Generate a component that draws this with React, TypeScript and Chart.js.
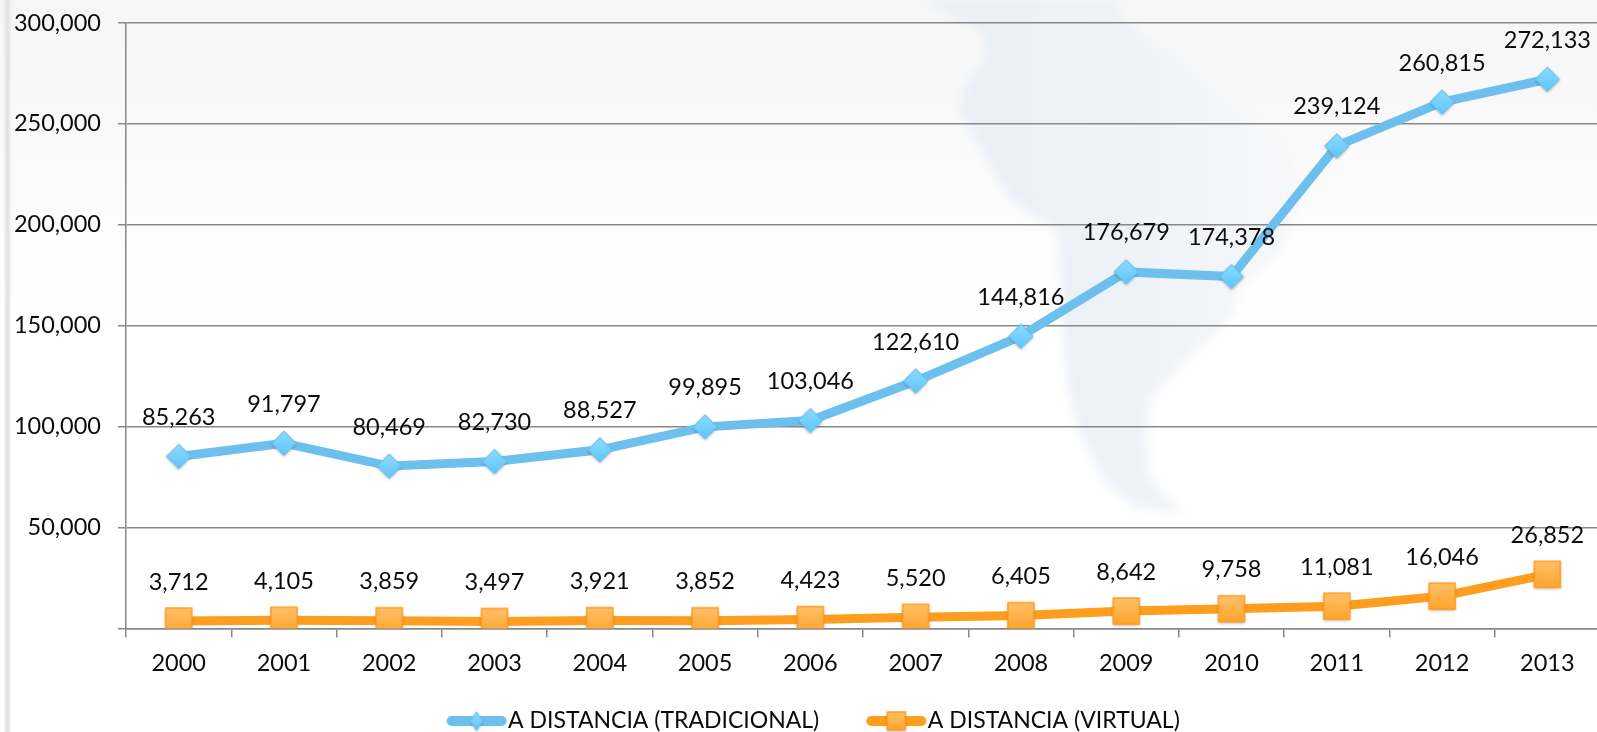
import React, { useEffect, useRef } from "react";
import { Chart, registerables } from "chart.js";

Chart.register(...registerables);

const years = ["2000","2001","2002","2003","2004","2005","2006","2007","2008","2009","2010","2011","2012","2013"];
const tradicional = [85263,91797,80469,82730,88527,99895,103046,122610,144816,176679,174378,239124,260815,272133];
const virtual = [3712,4105,3859,3497,3921,3852,4423,5520,6405,8642,9758,11081,16046,26852];
const seriesNames = ["A DISTANCIA (TRADICIONAL)", "A DISTANCIA (VIRTUAL)"];
const yTicksMax = 300000;
const yStep = 50000;

const FONT = "Lato, Carlito, sans-serif";
const BLUE = "#6dc0ee";
const ORANGE = "#ff9d1e";
const GRID = "#888888";
const PLOT_TOP = 23;
const PLOT_BOTTOM = 628.5;

function diamondMarker(rx: number, ry: number, pad = 5) {
  const c = document.createElement("canvas");
  c.width = rx * 2 + pad * 2;
  c.height = ry * 2 + pad * 2;
  const g = c.getContext("2d")!;
  const cx = c.width / 2, cy = c.height / 2;
  const grad = g.createLinearGradient(0, cy - ry, 0, cy + ry);
  grad.addColorStop(0, "#8fdcff");
  grad.addColorStop(1, "#5cc6fb");
  g.shadowColor = "rgba(0,0,0,0.3)";
  g.shadowBlur = 3;
  g.shadowOffsetY = 1.5;
  g.beginPath();
  g.moveTo(cx, cy - ry);
  g.lineTo(cx + rx, cy);
  g.lineTo(cx, cy + ry);
  g.lineTo(cx - rx, cy);
  g.closePath();
  g.fillStyle = grad;
  g.fill();
  g.shadowColor = "transparent";
  g.strokeStyle = BLUE;
  g.lineWidth = 1.2;
  g.stroke();
  return c;
}

function squareMarker(hw: number, hh: number, pad = 5) {
  const c = document.createElement("canvas");
  c.width = hw * 2 + pad * 2;
  c.height = hh * 2 + pad * 2;
  const g = c.getContext("2d")!;
  const cx = c.width / 2, cy = c.height / 2;
  const grad = g.createLinearGradient(0, cy - hh, 0, cy + hh);
  grad.addColorStop(0, "#ffc069");
  grad.addColorStop(1, "#ffa52c");
  g.shadowColor = "rgba(0,0,0,0.3)";
  g.shadowBlur = 3;
  g.shadowOffsetY = 1.5;
  g.fillStyle = grad;
  g.fillRect(cx - hw, cy - hh, hw * 2, hh * 2);
  g.shadowColor = "transparent";
  g.strokeStyle = ORANGE;
  g.lineWidth = 1.5;
  g.strokeRect(cx - hw, cy - hh, hw * 2, hh * 2);
  return c;
}

function legendSymbol(color: string, marker: HTMLCanvasElement) {
  const c = document.createElement("canvas");
  c.width = 62;
  c.height = 32;
  const g = c.getContext("2d")!;
  g.strokeStyle = color;
  g.lineWidth = 10;
  g.lineCap = "round";
  g.beginPath();
  g.moveTo(6, 16);
  g.lineTo(56, 16);
  g.stroke();
  g.drawImage(marker, 31 - marker.width / 2, 16 - marker.height / 2);
  return c;
}

const mapOutline: [number, number][] = [
  [923,0],[983,33],[987,57],[963,87],[960,113],[983,153],[1010,200],[1057,230],[1060,267],[1063,333],
  [1067,383],[1077,427],[1103,480],[1133,507],[1183,513],[1150,477],[1147,440],[1150,400],[1183,363],
  [1230,320],[1243,283],[1280,253],[1300,200],[1290,150],[1200,75],[1167,50],[1123,20],[1115,0],
];

const backgroundPlugin = {
  id: "pageBackground",
  beforeDraw(chart: any) {
    const { ctx, width, height } = chart;
    ctx.save();
    const bg = ctx.createLinearGradient(0, 0, 0, height);
    bg.addColorStop(0, "#f6f6f6");
    bg.addColorStop(0.45, "#ffffff");
    bg.addColorStop(1, "#ffffff");
    ctx.fillStyle = bg;
    ctx.fillRect(0, 0, width, height);
    ctx.fillStyle = "#e3e3e3";
    ctx.filter = "blur(1px)";
    ctx.fillRect(5, -5, 5, height + 10);
    ctx.filter = "blur(5px)";
    const m = ctx.createLinearGradient(950, 0, 1300, 0);
    m.addColorStop(0, "#e9eff6");
    m.addColorStop(0.5, "#eef2f7");
    m.addColorStop(1, "#f7f7f8");
    ctx.fillStyle = m;
    ctx.beginPath();
    mapOutline.forEach(([x, y], i) => (i ? ctx.lineTo(x, y) : ctx.moveTo(x, y)));
    ctx.closePath();
    ctx.fill();
    ctx.restore();
  },
};

const valueLabelPlugin = {
  id: "valueLabels",
  afterDatasetsDraw(chart: any) {
    const { ctx } = chart;
    ctx.save();
    ctx.font = `23.5px ${FONT}`;
    ctx.fillStyle = "#0b0b0b";
    ctx.textAlign = "center";
    ctx.textBaseline = "middle";
    chart.data.datasets.forEach((ds: any, i: number) => {
      chart.getDatasetMeta(i).data.forEach((pt: any, j: number) => {
        ctx.fillText(ds.data[j].toLocaleString("en-US"), pt.x, pt.y - 39);
      });
    });
    ctx.restore();
  },
};

const layoutPlugin = {
  id: "fixedLayout",
  afterLayout(chart: any) {
    const { x, y } = chart.scales;
    y.top = PLOT_TOP;
    y.bottom = PLOT_BOTTOM;
    y.height = PLOT_BOTTOM - PLOT_TOP;
    y.configure();
    x.top = PLOT_BOTTOM;
    x.bottom = 700;
    x.height = 700 - PLOT_BOTTOM;
    x.configure();
    const a = chart.chartArea;
    a.top = PLOT_TOP;
    a.bottom = PLOT_BOTTOM;
    a.height = PLOT_BOTTOM - PLOT_TOP;
    const l = chart.legend;
    l.left += 18.2;
    l.right += 18.2;
    l.top = 652.5;
    l.bottom = 732;
    l.height = 732 - 652.5;
  },
};

export default function App() {
  const ref = useRef<HTMLCanvasElement>(null);
  useEffect(() => {
    const blueMarker = diamondMarker(12, 12);
    const orangeMarker = squareMarker(13, 13);
    const symbols = [
      legendSymbol(BLUE, diamondMarker(6, 9, 2)),
      legendSymbol(ORANGE, squareMarker(9, 9, 2)),
    ];
    const chart = new Chart(ref.current!, {
      type: "line",
      data: {
        labels: years,
        datasets: [
          {
            label: seriesNames[0],
            data: tradicional,
            borderColor: BLUE,
            backgroundColor: BLUE,
            borderWidth: 9,
            tension: 0,
            pointStyle: blueMarker,
            pointRadius: 12,
          },
          {
            label: seriesNames[1],
            data: virtual,
            borderColor: ORANGE,
            backgroundColor: ORANGE,
            borderWidth: 9,
            tension: 0,
            pointStyle: orangeMarker,
            pointRadius: 13,
          },
        ],
      },
      options: {
        animation: false,
        responsive: false,
        layout: { autoPadding: false, padding: { top: 23, left: 0, right: 0, bottom: 0 } },
        scales: {
          x: {
            offset: true,
            grid: { offset: true, drawOnChartArea: false, drawTicks: true, tickLength: 9, color: GRID, lineWidth: 1.5 },
            border: { color: GRID, width: 1.5 },
            ticks: { color: "#0b0b0b", font: { family: FONT, size: 23.5 }, padding: 12, maxRotation: 0, autoSkip: false },
            afterFit(s: any) { s.height = 72; },
          },
          y: {
            min: 0,
            max: yTicksMax,
            grid: { color: GRID, lineWidth: 1.5, tickLength: 8, drawTicks: true },
            border: { color: GRID, width: 1.5 },
            ticks: {
              stepSize: yStep,
              color: "#0b0b0b",
              font: { family: FONT, size: 23.5 },
              padding: 17,
              callback: (v: any) => (v === 0 ? "" : Number(v).toLocaleString("en-US")),
            },
            afterFit(s: any) { s.width = 126; },
          },
        },
        plugins: {
          title: { display: false },
          tooltip: { enabled: false },
          legend: {
            display: true,
            position: "bottom",
            labels: {
              color: "#0b0b0b",
              font: { family: FONT, size: 23 },
              usePointStyle: true,
              pointStyleWidth: 40,
              boxHeight: 23,
              padding: 57,
              generateLabels: () =>
                seriesNames.map((text, i) => ({
                  text,
                  fontColor: "#0b0b0b",
                  fillStyle: i ? ORANGE : BLUE,
                  strokeStyle: i ? ORANGE : BLUE,
                  lineWidth: 0,
                  pointStyle: symbols[i],
                  datasetIndex: i,
                })),
            },
          },
        },
      },
      plugins: [backgroundPlugin, valueLabelPlugin, layoutPlugin],
    } as any);
    return () => chart.destroy();
  }, []);
  return (
    <div style={{ position: "fixed", left: 0, top: 0, width: 1597, height: 732, overflow: "hidden", background: "#fff" }}>
      <canvas ref={ref} width={1600} height={732} style={{ display: "block" }} />
    </div>
  );
}
